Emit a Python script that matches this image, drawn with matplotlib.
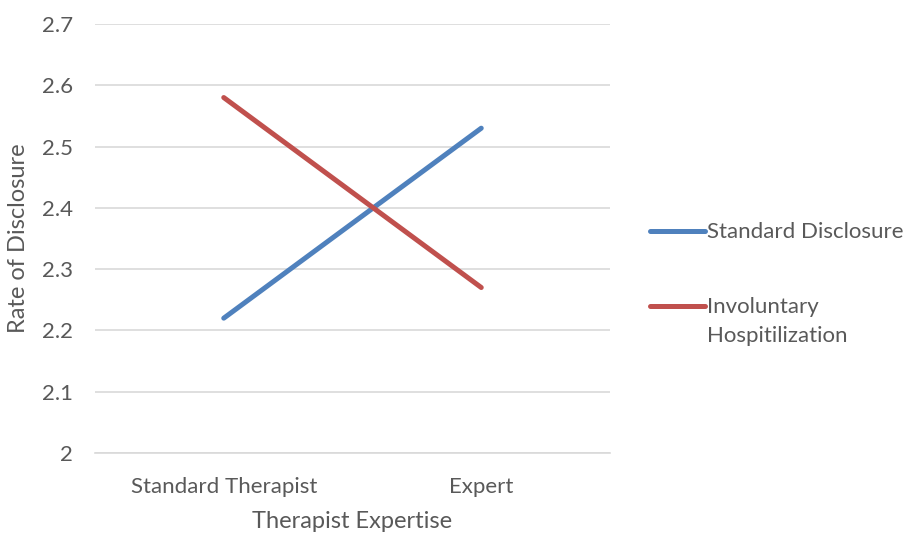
import matplotlib
matplotlib.use("Agg")
import matplotlib.pyplot as plt
from matplotlib.lines import Line2D

# Data
categories = ["Standard Therapist", "Expert"]
series_names = ["Standard Disclosure", "Involuntary\nHospitilization"]
standard_disclosure = [2.22, 2.53]
involuntary_hosp = [2.58, 2.27]
y_ticks = [2, 2.1, 2.2, 2.3, 2.4, 2.5, 2.6, 2.7]
y_tick_labels = ["2", "2.1", "2.2", "2.3", "2.4", "2.5", "2.6", "2.7"]

colors = ["#4F81BD", "#C0504D"]
text_color = "#595959"
grid_color = "#D9D9D9"

plt.rcParams["font.family"] = ["Lato", "DejaVu Sans"]

W, H = 905, 536
fig = plt.figure(figsize=(W / 100, H / 100), dpi=100)
ax = fig.add_axes([95 / W, (H - 453) / H, (610 - 95) / W, (453 - 24) / H])

x = [0, 1]
for vals, c in zip([standard_disclosure, involuntary_hosp], colors):
    ax.plot(x, vals, color=c, lw=3.6, solid_capstyle="round", zorder=3)

ax.set_xlim(-0.5, 1.5)
ax.set_ylim(2, 2.7)
ax.set_yticks(y_ticks)
ax.set_yticklabels(y_tick_labels)
ax.set_xticks(x)
ax.set_xticklabels(categories)
ax.tick_params(axis="both", length=0, labelsize=16, labelcolor=text_color)
ax.tick_params(axis="y", pad=16)
ax.tick_params(axis="x", pad=17)
ax.grid(axis="y", color=grid_color, lw=1.2, zorder=0)
for s in ["top", "right", "left"]:
    ax.spines[s].set_visible(False)
ax.spines["bottom"].set_color(grid_color)
ax.spines["bottom"].set_linewidth(1.2)

ax.set_ylabel("Rate of Disclosure", fontsize=17, color=text_color)
ax.set_xlabel("Therapist Expertise", fontsize=17, color=text_color)
ax.yaxis.label.set_va("center")
ax.xaxis.label.set_va("center")
ax.yaxis.set_label_coords((18 - 95) / 515, 0.5)
ax.xaxis.set_label_coords(0.5, (453 - 522) / 429)

# Legend drawn in figure pixels
leg_rows = [231, 306]
for name, c, yp in zip(series_names, colors, leg_rows):
    yf = (H - yp) / H
    fig.add_artist(Line2D([650 / W, 705 / W], [yf, yf], transform=fig.transFigure,
                          color=c, lw=3.6, solid_capstyle="round"))
    fig.text(707 / W, yf + 9 / H, name, fontsize=16, color=text_color, va="top",
             ha="left", linespacing=1.55, transform=fig.transFigure)

fig.savefig("out.png", dpi=100, facecolor="white")
